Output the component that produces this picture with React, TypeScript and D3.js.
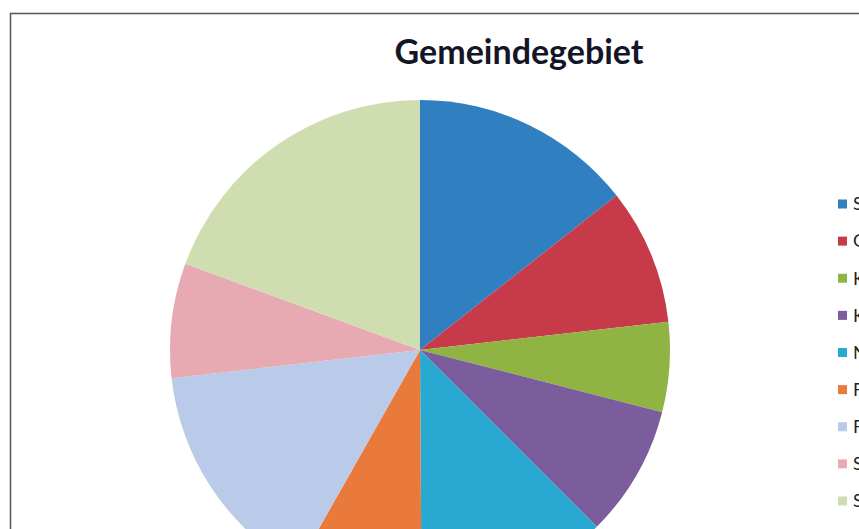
import React, { useEffect, useRef } from 'react';
import * as d3 from 'd3';

// Anteile am Gemeindegebiet (%), im Uhrzeigersinn ab 12 Uhr
const categories = ['Siedlung', 'Gewerbe', 'Kleingärten', 'Kultur', 'Naturschutz', 'Friedhöfe', 'Freiflächen', 'Sport', 'Sonstiges'];
const shares = [14.4, 8.8, 5.8, 8.5, 12.4, 8.3, 15.0, 7.4, 19.4];
const colors = ['#2f7fc1', '#c73a4a', '#8fb443', '#7b5c9c', '#27a9d2', '#ea7a3c', '#b9cbe9', '#e8aab2', '#d0ddb0'];

const App = () => {
  const ref = useRef<SVGSVGElement>(null);

  useEffect(() => {
    document.body.style.margin = '0';
    const svg = d3.select(ref.current);
    svg.selectAll('*').remove();

    // chart frame
    svg.append('rect')
      .attr('x', 10.5)
      .attr('y', 13.5)
      .attr('width', 900)
      .attr('height', 600)
      .attr('fill', 'white')
      .attr('stroke', '#555')
      .attr('stroke-width', 1.5);

    svg.append('text')
      .attr('x', 519)
      .attr('y', 64)
      .attr('text-anchor', 'middle')
      .style('font-family', 'Lato, "Open Sans", sans-serif')
      .style('font-weight', 700)
      .style('font-size', '34px')
      .attr('fill', '#151528')
      .text('Gemeindegebiet');

    const data = categories.map((c, i) => ({ name: c, value: shares[i] }));
    const color = d3.scaleOrdinal<string>().domain(categories).range(colors);

    const pie = d3.pie<{ name: string; value: number }>()
      .sort(null)
      .value(d => d.value);
    const arc = d3.arc<d3.PieArcDatum<{ name: string; value: number }>>()
      .innerRadius(0)
      .outerRadius(250);

    svg.append('g')
      .attr('transform', 'translate(420,350)')
      .selectAll('path')
      .data(pie(data))
      .join('path')
      .attr('d', arc)
      .attr('fill', d => color(d.data.name));

    // legend (labels run off the right edge, as in the scan)
    const legendY = d3.scalePoint<string>()
      .domain(categories)
      .range([204, 501]);

    const lg = svg.append('g');
    lg.selectAll('rect')
      .data(categories)
      .join('rect')
      .attr('x', 838)
      .attr('y', d => legendY(d)! - 4.5)
      .attr('width', 9)
      .attr('height', 9)
      .attr('fill', d => color(d));

    lg.selectAll('text')
      .data(categories)
      .join('text')
      .attr('x', 853)
      .attr('y', d => legendY(d)!)
      .attr('dy', '0.35em')
      .style('font-family', 'Lato, "Open Sans", sans-serif')
      .style('font-size', '18px')
      .attr('fill', '#222')
      .text(d => d);
  }, []);

  return <svg ref={ref} width={859} height={529} style={{ display: 'block' }} />;
};

export default App;
